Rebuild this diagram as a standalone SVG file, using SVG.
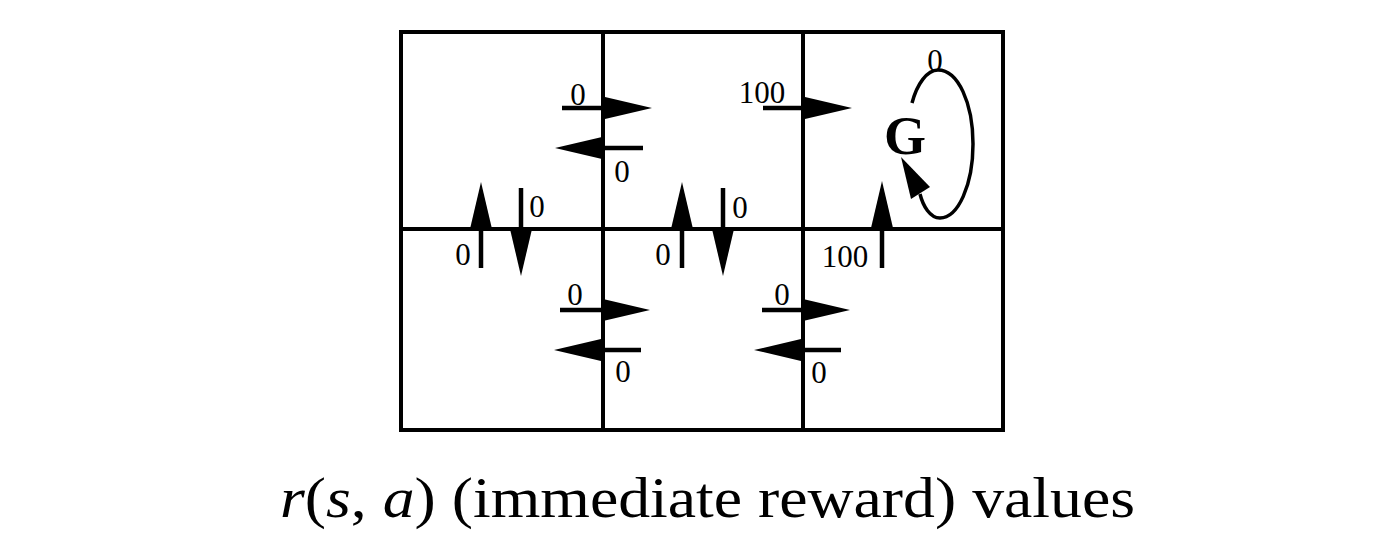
<svg xmlns="http://www.w3.org/2000/svg" width="1395" height="543" viewBox="0 0 1395 543">
<style>
.grid{fill:none;stroke:#000;stroke-width:4}
.arr{stroke:#000;stroke-width:4.5;fill:none;marker-end:url(#ah)}
.lbl{font-family:"Liberation Serif","Times New Roman",serif;font-size:31px;fill:#000;text-anchor:middle}
.cap{font-family:"Liberation Serif","Times New Roman",serif;font-size:56px;fill:#000}
</style>
<defs>
<marker id="ah" markerUnits="userSpaceOnUse" viewBox="0 0 48 24" markerWidth="48" markerHeight="24" refX="0" refY="12" orient="auto" overflow="visible">
<path d="M0,1 L47,12 L0,23 Z" fill="#000"/>
</marker>
</defs>
<rect width="1395" height="543" fill="#fff"/>
<g id="grid">
<rect class="grid" x="401" y="32" width="602" height="398"/>
<line class="grid" x1="603" y1="32" x2="603" y2="430"/>
<line class="grid" x1="803" y1="32" x2="803" y2="430"/>
<line class="grid" x1="401" y1="229" x2="1003" y2="229"/>
</g>
<g id="goal">
<text x="884" y="154" font-family="'Liberation Serif','Times New Roman',serif" font-weight="bold" font-size="54">G</text>
</g>
<g id="connectors">
<line class="arr" x1="562" y1="108" x2="605" y2="108"/>
<line class="arr" x1="643" y1="148" x2="602" y2="148"/>
<line class="arr" x1="763" y1="108" x2="805" y2="108"/>
<line class="arr" x1="481" y1="268" x2="481" y2="229"/>
<line class="arr" x1="521" y1="188" x2="521" y2="229"/>
<line class="arr" x1="682" y1="268" x2="682" y2="229"/>
<line class="arr" x1="723" y1="188" x2="723" y2="229"/>
<line class="arr" x1="882" y1="268" x2="882" y2="228"/>
<line class="arr" x1="560" y1="310" x2="603" y2="310"/>
<line class="arr" x1="641" y1="350" x2="601" y2="350"/>
<line class="arr" x1="762" y1="310" x2="803" y2="310"/>
<line class="arr" x1="841" y1="350" x2="801" y2="350"/>
<path d="M912,103 C917,84 927,70 938,70 C958,70 973,103 973,144 C973,185 958,218 940,218 C930,218 923,206 920,194" fill="none" stroke="#000" stroke-width="3.5"/>
<polygon points="901,157 930,187 911,199" fill="#000"/>
</g>
<g id="labels">
<text class="lbl" x="578" y="105">0</text>
<text class="lbl" x="622" y="182">0</text>
<text class="lbl" x="762" y="103">100</text>
<text class="lbl" x="935" y="71">0</text>
<text class="lbl" x="463" y="265">0</text>
<text class="lbl" x="537" y="217">0</text>
<text class="lbl" x="663" y="265">0</text>
<text class="lbl" x="740" y="218">0</text>
<text class="lbl" x="845" y="267">100</text>
<text class="lbl" x="575" y="305">0</text>
<text class="lbl" x="623" y="382">0</text>
<text class="lbl" x="782" y="305">0</text>
<text class="lbl" x="819" y="383">0</text>
</g>
<g id="caption">
<text class="cap" x="280" y="517" textLength="855" lengthAdjust="spacingAndGlyphs"><tspan font-style="italic">r</tspan>(<tspan font-style="italic">s</tspan>, <tspan font-style="italic">a</tspan>) (immediate reward) values</text>
</g>
</svg>
